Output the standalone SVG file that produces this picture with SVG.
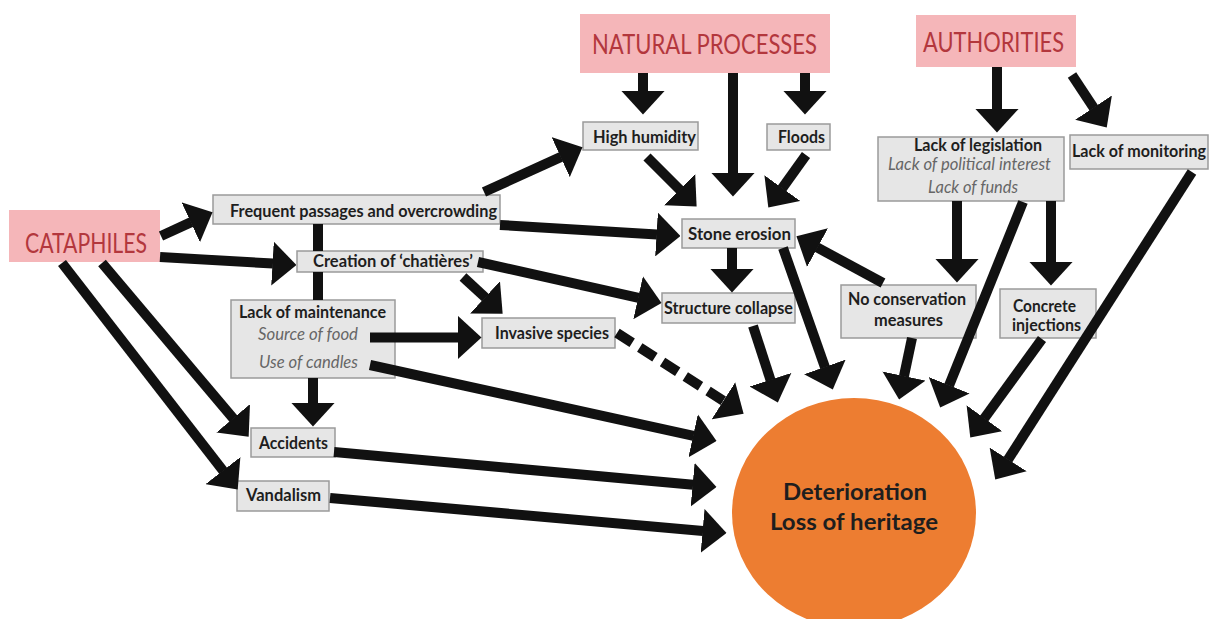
<svg xmlns="http://www.w3.org/2000/svg" width="1211" height="619" viewBox="0 0 1211 619">
<style>
.pink{fill:#f5b6b9}
.pt{font-family:Lato,"Liberation Sans",sans-serif;font-size:26px;fill:#b3373d}
.box{fill:#e6e6e6;stroke:#9a9a9a;stroke-width:1.5}
.bt{font-family:Lato,"Liberation Sans",sans-serif;font-size:16.5px;font-weight:bold;fill:#1e1e1e}
.it{font-family:Lato,"Liberation Sans",sans-serif;font-size:16.5px;font-style:italic;fill:#666}
.ct{font-family:Lato,"Liberation Sans",sans-serif;font-size:22px;font-weight:bold;fill:#1e1e1e}
.c{stroke:#111;stroke-width:10;fill:none;marker-end:url(#ah)}
.plain{stroke:#111;stroke-width:10;fill:none}
</style>
<defs>
<marker id="ah" markerUnits="userSpaceOnUse" viewBox="0 0 24 44" markerWidth="24" markerHeight="44" refX="0.5" refY="22" orient="auto"><path d="M0,0 L24,22 L0,44 Z" fill="#111"/></marker>
</defs>
<rect width="1211" height="619" fill="#fff"/>
<g id="nodes">
<g id="n-cataphiles"><rect class="pink" x="9" y="210" width="151" height="52"/><text class="pt" x="25" y="253" textLength="122" lengthAdjust="spacingAndGlyphs">CATAPHILES</text></g>
<g id="n-natural"><rect class="pink" x="580" y="14" width="250" height="59"/><text class="pt" x="592" y="54" textLength="225" lengthAdjust="spacingAndGlyphs">NATURAL PROCESSES</text></g>
<g id="n-authorities"><rect class="pink" x="916" y="15" width="160" height="52"/><text class="pt" x="923" y="52" textLength="141" lengthAdjust="spacingAndGlyphs">AUTHORITIES</text></g>
<g id="n-frequent"><rect class="box" x="213" y="195" width="287" height="29"/><text class="bt" x="230" y="217" textLength="267" lengthAdjust="spacingAndGlyphs">Frequent passages and overcrowding</text></g>
<g id="n-creation"><rect class="box" x="297" y="251" width="186" height="21"/><text class="bt" x="313" y="267" textLength="160" lengthAdjust="spacingAndGlyphs">Creation of ‘chatières’</text></g>
<g id="n-maintenance"><rect class="box" x="231" y="300" width="164" height="78"/><text class="bt" x="239" y="318" textLength="147" lengthAdjust="spacingAndGlyphs">Lack of maintenance</text><text class="it" x="258" y="340" textLength="100" lengthAdjust="spacingAndGlyphs">Source of food</text><text class="it" x="259" y="368" textLength="99" lengthAdjust="spacingAndGlyphs">Use of candles</text></g>
<g id="n-invasive"><rect class="box" x="482" y="318" width="133" height="30"/><text class="bt" x="495" y="339" textLength="114" lengthAdjust="spacingAndGlyphs">Invasive species</text></g>
<g id="n-accidents"><rect class="box" x="251" y="428" width="84" height="29"/><text class="bt" x="259" y="449" textLength="69" lengthAdjust="spacingAndGlyphs">Accidents</text></g>
<g id="n-vandalism"><rect class="box" x="237" y="481" width="92" height="30"/><text class="bt" x="246" y="501" textLength="75" lengthAdjust="spacingAndGlyphs">Vandalism</text></g>
<g id="n-humidity"><rect class="box" x="583" y="122" width="115" height="28"/><text class="bt" x="593" y="143" textLength="103" lengthAdjust="spacingAndGlyphs">High humidity</text></g>
<g id="n-floods"><rect class="box" x="767" y="124" width="63" height="26"/><text class="bt" x="778" y="143" textLength="47" lengthAdjust="spacingAndGlyphs">Floods</text></g>
<g id="n-stone"><rect class="box" x="682" y="219" width="113" height="29"/><text class="bt" x="688" y="240" textLength="103" lengthAdjust="spacingAndGlyphs">Stone erosion</text></g>
<g id="n-collapse"><rect class="box" x="662" y="293" width="133" height="30"/><text class="bt" x="664" y="314" textLength="129" lengthAdjust="spacingAndGlyphs">Structure collapse</text></g>
<g id="n-noconserv"><rect class="box" x="841" y="285" width="135" height="53"/><text class="bt" x="848" y="305" textLength="118" lengthAdjust="spacingAndGlyphs">No conservation</text><text class="bt" x="874" y="326" textLength="69" lengthAdjust="spacingAndGlyphs">measures</text></g>
<g id="n-legislation"><rect class="box" x="878" y="137" width="186" height="64"/><text class="bt" x="914" y="151" font-size="15" textLength="128" lengthAdjust="spacingAndGlyphs">Lack of legislation</text><text class="it" x="888" y="170" font-size="15" textLength="163" lengthAdjust="spacingAndGlyphs">Lack of political interest</text><text class="it" x="928" y="193" textLength="90" lengthAdjust="spacingAndGlyphs">Lack of funds</text></g>
<g id="n-monitoring"><rect class="box" x="1070" y="135" width="138" height="34"/><text class="bt" x="1072" y="157" textLength="134" lengthAdjust="spacingAndGlyphs">Lack of monitoring</text></g>
<g id="n-concrete"><rect class="box" x="1000" y="289" width="96" height="49"/><text class="bt" x="1013" y="312" textLength="63" lengthAdjust="spacingAndGlyphs">Concrete</text><text class="bt" x="1012" y="331" textLength="69" lengthAdjust="spacingAndGlyphs">injections</text></g>
<g id="n-deterioration"><ellipse cx="854" cy="513" rx="122" ry="115" fill="#ed7d31"/><text class="ct" x="783" y="500" textLength="144" lengthAdjust="spacingAndGlyphs">Deterioration</text><text class="ct" x="770" y="530" textLength="168" lengthAdjust="spacingAndGlyphs">Loss of heritage</text></g>
</g>
<g id="connectors">
<line class="plain" x1="318" y1="224" x2="318" y2="251"/>
<line class="plain" x1="318" y1="272" x2="318" y2="300"/>
<line class="c" x1="161" y1="236" x2="191.2" y2="222.1"/>
<line class="c" x1="160" y1="257" x2="273" y2="263.6"/>
<line class="c" x1="102" y1="263" x2="233.5" y2="418.7"/>
<line class="c" x1="62" y1="263" x2="223.3" y2="471"/>
<line class="c" x1="313" y1="378" x2="313" y2="403"/>
<line class="c" x1="370" y1="337.5" x2="458" y2="337.5"/>
<line class="c" x1="370" y1="365" x2="693.6" y2="435.9"/>
<line class="c" x1="334" y1="452" x2="693.1" y2="484.8"/>
<line class="c" x1="330" y1="498" x2="703.1" y2="530.9"/>
<line class="c" x1="463" y1="277" x2="485.4" y2="297.7"/>
<line class="c" x1="478" y1="262" x2="638.6" y2="297.8"/>
<line class="c" x1="484" y1="192" x2="561.1" y2="156.9"/>
<line class="c" x1="500" y1="225" x2="657" y2="234.5"/>
<line class="c" x1="643" y1="73" x2="643" y2="91"/>
<line class="c" x1="733" y1="73" x2="733" y2="173"/>
<line class="c" x1="805" y1="73" x2="805" y2="91"/>
<line class="c" x1="647" y1="157" x2="680" y2="190"/>
<line class="c" x1="806" y1="155" x2="782" y2="188.5"/>
<line class="c" x1="732" y1="248" x2="732" y2="269"/>
<line class="c" x1="783" y1="248" x2="825" y2="367.4"/>
<line class="c" x1="753" y1="326" x2="770.6" y2="380.2"/>
<line class="c" x1="617" y1="333" x2="723.8" y2="401.1" stroke-dasharray="18 9"/>
<line class="c" x1="883" y1="283" x2="817.1" y2="247.4"/>
<line class="c" x1="912" y1="338" x2="903.9" y2="376.5"/>
<line class="c" x1="957" y1="201" x2="957" y2="259"/>
<line class="c" x1="1023" y1="202" x2="949" y2="385.7"/>
<line class="c" x1="1051" y1="201" x2="1051" y2="262"/>
<line class="c" x1="1042" y1="339" x2="984.1" y2="418.6"/>
<line class="c" x1="1192" y1="172" x2="1007.9" y2="459.8"/>
<line class="c" x1="997" y1="67" x2="997" y2="109"/>
<line class="c" x1="1072" y1="75" x2="1093.8" y2="108"/>
</g>
</svg>
